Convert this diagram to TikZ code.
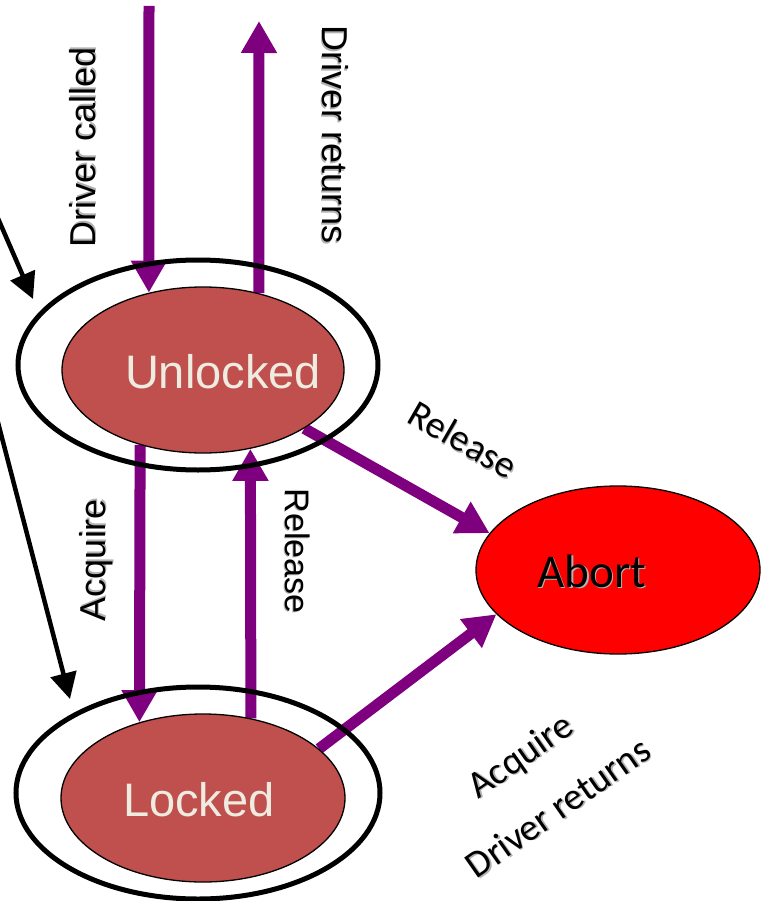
\documentclass[tikz,border=0pt]{standalone}
\usepackage{fontspec}
\setmainfont{Liberation Sans}
\newfontfamily\calibrifont{Carlito}
\usetikzlibrary{shapes.geometric,arrows.meta}
\definecolor{lockFill}{HTML}{C0504D}
\definecolor{lockText}{HTML}{EEECE1}
\definecolor{transPurple}{HTML}{7F007F}
% text with a soft drop shadow
\newcommand\shadowed[1]{\makebox[0pt][l]{\kern1.3pt\raisebox{-1.3pt}{\textcolor{black!30}{#1}}}#1}
\pgfdeclarelayer{background}
\pgfsetlayers{background,main}

\begin{document}
\begin{tikzpicture}[x=1pt,y=-1pt,
  stateRing/.style={ellipse, draw=black, line width=5pt, inner sep=0pt},
  stateCore/.style={ellipse, draw=black, line width=1.3pt, fill=lockFill, inner sep=0pt},
  stateName/.style={text=lockText, font=\fontsize{47}{56}\selectfont, inner sep=0pt},
  abortState/.style={ellipse, draw=black, line width=1.3pt, fill=red, inner sep=0pt,
    minimum width=284pt, minimum height=168pt},
  transition/.style={draw=transPurple, line width=11pt, -{Triangle[width=34pt,length=32pt]}},
  entry/.style={draw=black, line width=4.5pt, -{Triangle[width=26pt,length=26pt]}},
  sideLabel/.style={font=\fontsize{36}{43}\selectfont, inner sep=0pt},
  slantLabel/.style={font=\calibrifont\fontsize{38}{46}\selectfont, inner sep=0pt},
]
\useasboundingbox (0,0) rectangle (764,901);

% states
\node[stateRing, minimum width=360pt, minimum height=210pt] (Uout) at (198,365) {};
\node[stateCore, minimum width=282pt, minimum height=166pt] (Uin) at (203,370) {};
\node[stateName] (Utext) at (223,372) {Unlocked};

\node[stateRing, minimum width=364pt, minimum height=212pt] (Lout) at (198,793) {};
\node[stateCore, minimum width=284pt, minimum height=168pt] (Lin) at (203,798) {};
\node[stateName] (Ltext) at (199,800) {Locked};

\node[abortState] (Abort) at (618,570) {};
\node[font=\calibrifont\fontsize{47}{56}\selectfont, inner sep=0pt] (Atext) at (592,572) {\shadowed{Abort}};

% free ends of the connectors
\coordinate (callSrc) at (149,6);
\coordinate (retDst) at (259,21);
\coordinate (entryA) at (-10,200);
\coordinate (entryATip) at (33,299);
\coordinate (entryB) at (-5,411);
\coordinate (entryBTip) at (70,699);

% transitions, drawn beneath the states
\begin{pgfonlayer}{background}
\draw[transition] (callSrc) -- (Uin.125);
\draw[transition] (Uin.54) -- (retDst);
\draw[transition] (Uin.230) -- (Lin.130);
\draw[transition] (Lin.59) -- (Uin.301);
\draw[transition] (Uin.330) -- (Abort.164);
\draw[transition] (Lin.23) -- (Abort.200);
\end{pgfonlayer}

\draw[entry] (entryA) -- (entryATip);
\draw[entry] (entryB) -- (entryBTip);

% labels
\node[sideLabel, rotate=90] (lblCalled) at (83,147) {\shadowed{Driver called}};
\node[sideLabel, rotate=-90] (lblReturns) at (335,135) {\shadowed{Driver returns}};
\node[sideLabel, rotate=90] (lblAcquire) at (97,560) {\shadowed{Acquire}};
\node[sideLabel, rotate=-90, font=\fontsize{34}{41}\selectfont] (lblRelease) at (297,551) {\shadowed{Release}};
\node[slantLabel, rotate=-30] (lblAbortRel) at (463,440) {\shadowed{Release}};
\node[slantLabel, rotate=35] (lblAbortAcq) at (522,758) {\shadowed{Acquire}};
\node[slantLabel, rotate=35] (lblAbortRet) at (558,808) {\shadowed{Driver returns}};
\end{tikzpicture}
\end{document}
